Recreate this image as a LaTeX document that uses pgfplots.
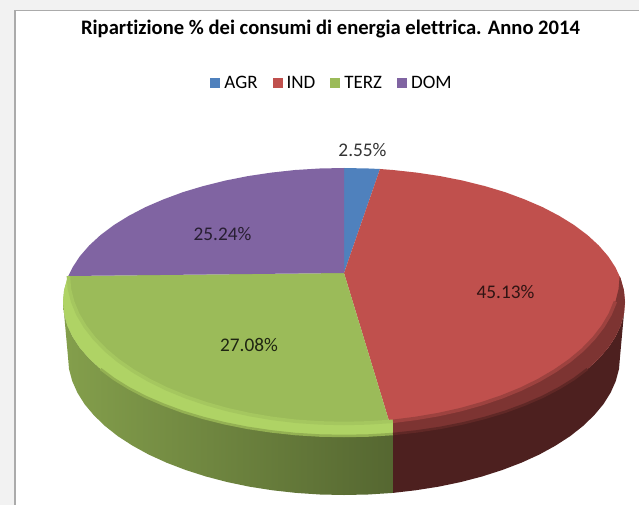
\documentclass[border=0pt]{standalone}
\usepackage{pgfplots}
\pgfplotsset{compat=1.18}
\usepackage{fontspec}
\setmainfont{Carlito}[Ligatures=NoCommon]
\definecolor{cAGR}{HTML}{4F81BD}
\definecolor{cIND}{HTML}{C0504D}
\definecolor{cTERZ}{HTML}{9BBB59}
\definecolor{cDOM}{HTML}{8064A2}
\definecolor{bevG}{HTML}{AFD365}
\definecolor{bevGi}{HTML}{A5C75F}
\definecolor{bevGo}{HTML}{94B153}
\pgfplotstableread{
x y
393 421.3
368 422.9
344 423.5
320 422.9
296.1 421.3
272.7 418.5
249.7 414.6
227.5 409.7
206.2 403.7
185.9 396.8
166.8 389
149.1 380.3
132.9 370.8
118.2 360.6
105.3 349.8
94.2 338.3
85 326.4
77.8 314.2
72.6 301.6
69.4 288.9
68.4 276
}\greeninner
\pgfplotstableread{
x y
100.6 369
113.8 378.9
128.7 388.1
145.3 396.8
163.4 404.6
182.8 411.8
203.5 418
225.2 423.4
247.9 427.9
271.3 431.4
295.2 434
319.5 435.5
344 436
368.5 435.5
393 434
}\greenouter
\pgfplotstableread{
x y
393 421.3
415.3 418.5
438.3 414.6
460.5 409.7
481.8 403.7
502.1 396.8
521.2 389
538.9 380.3
555.1 370.8
569.8 360.6
582.7 349.8
593.8 338.3
603 326.4
610.2 314.2
615.4 301.6
}\redinner
\pgfplotstableread{
x y
393 434
416.7 431.4
440.1 427.9
462.8 423.4
484.5 418
505.2 411.8
524.6 404.6
542.7 396.8
559.3 388.1
574.2 378.9
587.4 369
}\redouter
\begin{document}
\begin{tikzpicture}
\begin{axis}[
  scale only axis, width=639pt, height=505pt,
  xmin=0, xmax=639, ymin=0, ymax=505, y dir=reverse,
  axis lines=none, clip=true,
  legend columns=4,
  legend style={at={(axis cs:332,83)}, anchor=center, draw=none, fill=none,
    font=\fontsize{19}{20}\selectfont, inner sep=0pt, row sep=0pt,
    /tikz/every odd column/.style={column sep=2pt},
    /tikz/every even column/.style={column sep=13pt}},
  legend cell align=left,
  legend image code/.code={\fill[#1] (0pt,-5pt) rectangle (10pt,5pt);},
]
% background and panel
\addplot[forget plot, fill=black!5, draw=none] coordinates {(0,0) (639,0) (639,505) (0,505)} \closedcycle;
\addplot[forget plot, fill=white, draw=black!33, line width=1.6pt] coordinates {(15,10.5) (645,10.5) (645,515) (15,515) (15,10.5)};

% side walls
\addplot[forget plot, draw=none, left color=cTERZ!85!black, right color=cTERZ!55!black] coordinates {
(63,302) (64.1,313.7) (67.3,325.3) (72.6,336.7) (79.9,347.8) (89.3,358.6) (100.6,369) (113.8,378.9) (128.7,388.1) (145.3,396.8) (163.4,404.6) (182.8,411.8) (203.5,418) (225.2,423.4) (247.9,427.9) (271.3,431.4) (295.2,434) (319.5,435.5) (344,436) (368.5,435.5) (393,434)
(393,492.9) (368.1,494.5) (344,495) (319.9,494.5) (296.1,492.9) (272.6,490.3) (249.6,486.7) (227.4,482.1) (206,476.5) (185.7,470) (166.6,462.7) (148.8,454.6) (132.6,445.7) (117.9,436.2) (105,426) (93.9,415.3) (84.6,404.2) (77.4,392.7) (72.2,381) (69,369) (68,357)} -- cycle;
\addplot[forget plot, draw=none, fill=cIND!40!black] coordinates {
(393,434) (416.7,431.4) (440.1,427.9) (462.8,423.4) (484.5,418) (505.2,411.8) (524.6,404.6) (542.7,396.8) (559.3,388.1) (574.2,378.9) (587.4,369) (598.7,358.6) (608.1,347.8) (615.4,336.7) (620.7,325.3) (623.9,313.7) (625,302)
(620,357) (619,369) (615.8,381) (610.6,392.7) (603.4,404.2) (594.1,415.3) (583,426) (570.1,436.2) (555.4,445.7) (539.2,454.6) (521.4,462.7) (502.3,470) (482,476.5) (460.6,482.1) (438.4,486.7) (415.4,490.3) (393,492.9)} -- cycle;

% top faces
\addplot[fill=cAGR, draw=none] coordinates {
(344,273) (344,168) (368.5,168.5) (380,169)} -- cycle;
\addlegendentry{AGR}
\addplot[fill=cIND, draw=none] coordinates {
(344,273) (380,169) (392.8,170) (416.7,172.6) (440.1,176.1) (462.8,180.6) (484.5,186) (505.2,192.2) (524.6,199.4) (542.7,207.2) (559.3,215.9) (574.2,225.1) (587.4,235) (598.7,245.4) (608.1,256.2) (615.4,267.3) (620.7,278.7) (623.9,290.3) (625,302) (623.9,313.7) (620.7,325.3) (615.4,336.7) (608.1,347.8) (598.7,358.6) (587.4,369) (574.2,378.9) (559.3,388.1) (542.7,396.8) (524.6,404.6) (505.2,411.8) (484.5,418) (462.8,423.4) (440.1,427.9) (416.7,431.4) (393,434)} -- cycle;
\addlegendentry{IND}
\addplot[fill=cTERZ, draw=none] coordinates {
(344,273) (393,434) (368.5,435.5) (344,436) (319.5,435.5) (295.2,434) (271.3,431.4) (247.9,427.9) (225.2,423.4) (203.5,418) (182.8,411.8) (163.4,404.6) (145.3,396.8) (128.7,388.1) (113.8,378.9) (100.6,369) (89.3,358.6) (79.9,347.8) (72.6,336.7) (67.3,325.3) (64.1,313.7) (63,302) (64.1,290.3) (67.3,278.7) (68.3,276)} -- cycle;
\addlegendentry{TERZ}

% bevels
\addplot[forget plot, draw=none, fill=bevG] coordinates {
(68.3,276) (67.3,278.7) (64.1,290.3) (63,302) (64.1,313.7) (67.3,325.3) (72.6,336.7) (79.9,347.8) (89.3,358.6) (100.6,369) (113.8,378.9) (128.7,388.1) (145.3,396.8) (163.4,404.6) (182.8,411.8) (203.5,418) (225.2,423.4) (247.9,427.9) (271.3,431.4) (295.2,434) (319.5,435.5) (344,436) (368.5,435.5) (393,434)
(393,421.3) (368,422.9) (344,423.5) (320,422.9) (296.1,421.3) (272.7,418.5) (249.7,414.6) (227.5,409.7) (206.2,403.7) (185.9,396.8) (166.8,389) (149.1,380.3) (132.9,370.8) (118.2,360.6) (105.3,349.8) (94.2,338.3) (85,326.4) (77.8,314.2) (72.6,301.6) (69.4,288.9)} -- cycle;
\addplot[forget plot, no marks, color=bevGi, line width=3.5pt] table {\greeninner};
\addplot[forget plot, no marks, color=bevGo, line width=2.5pt] table {\greenouter};
\addplot[forget plot, draw=none, fill=cIND!65!black] coordinates {
(393,434) (416.7,431.4) (440.1,427.9) (462.8,423.4) (484.5,418) (505.2,411.8) (524.6,404.6) (542.7,396.8) (559.3,388.1) (574.2,378.9) (587.4,369) (598.7,358.6) (608.1,347.8) (615.4,336.7) (620.7,325.3) (623.9,313.7) (625,302) (623.9,290.3) (620.7,278.7) (619.6,276)
(618.6,288.9) (615.4,301.6) (610.2,314.2) (603,326.4) (593.8,338.3) (582.7,349.8) (569.8,360.6) (555.1,370.8) (538.9,380.3) (521.2,389) (502.1,396.8) (481.8,403.7) (460.5,409.7) (438.3,414.6) (415.3,418.5) (393,421.3)} -- cycle;
\addplot[forget plot, no marks, color=cIND!82!black, line width=3.5pt] table {\redinner};
\addplot[forget plot, no marks, color=cIND!50!black, line width=2.5pt] table {\redouter};

\addplot[fill=cDOM, draw=none] coordinates {
(344,273) (68.3,276) (72.6,267.3) (79.9,256.2) (89.3,245.4) (100.6,235) (113.8,225.1) (128.7,215.9) (145.3,207.2) (163.4,199.4) (182.8,192.2) (203.5,186) (225.2,180.6) (247.9,176.1) (271.3,172.6) (295.2,170) (319.5,168.5) (344,168)} -- cycle;
\addlegendentry{DOM}

\node[font=\fontsize{19.3}{20}\selectfont, text=black!80] at (axis cs:362.5,150) {2.55\%};
\node[font=\fontsize{19.3}{20}\selectfont, text=cIND!25!black] at (axis cs:505.5,292) {45.13\%};
\node[font=\fontsize{19.3}{20}\selectfont, text=cTERZ!20!black] at (axis cs:249,345) {27.08\%};
\node[font=\fontsize{19.3}{20}\selectfont, text=cDOM!30!black] at (axis cs:222.5,234) {25.24\%};
\node[font=\bfseries\fontsize{20.6}{22}\selectfont] at (axis cs:330.5,29) {Ripartizione \% dei consumi di energia elettrica. Anno 2014};
\end{axis}
\end{tikzpicture}
\end{document}
